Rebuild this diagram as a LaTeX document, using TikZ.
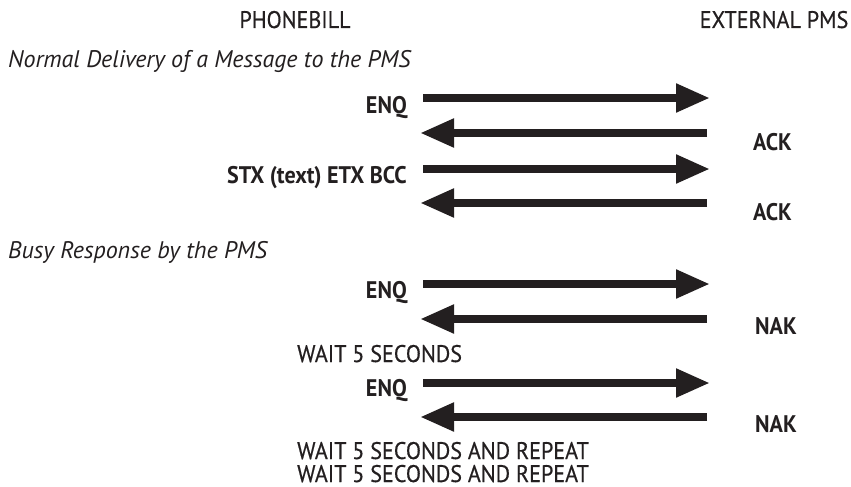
\documentclass[tikz,border=0pt]{standalone}
\usepackage{fontspec}
\setmainfont{PT Sans}[FakeStretch=0.92,UprightFeatures={FakeBold=0.5},ItalicFeatures={FakeStretch=1.0}]
\usetikzlibrary{arrows.meta}
\definecolor{ink}{HTML}{231F20}

\begin{document}
\begin{tikzpicture}
[x=1pt,y=-1pt,
  textdecorate/.style={inner sep=0pt,text=ink,font=\fontsize{24}{28}\selectfont},
  boldecorate/.style={textdecorate,font=\fontsize{24}{28}\selectfont\bfseries},
  headdecorate/.style={textdecorate,font=\fontsize{24}{28}\selectfont\itshape},
  linedecorate/.style={-{Triangle[length=34pt,width=27pt]},line width=8pt,draw=ink}]
\useasboundingbox (0,0) rectangle (851,487);
%%% column titles
\node (pb) at (295,28) [textdecorate,anchor=base] {PHONEBILL};
\node (pms) at (774,28) [textdecorate,anchor=base] {EXTERNAL PMS};
%
%%% normal delivery
% headings and labels
\node (normal) at (8,67) [headdecorate,anchor=base west] {Normal Delivery of a Message to the PMS};
\node (enqa) at (407,113) [boldecorate,anchor=base east] {ENQ};
\node (acka) at (753,150) [boldecorate,anchor=base west] {ACK};
\node (stx) at (407,183) [boldecorate,anchor=base east] {STX (text) ETX BCC};
\node (ackb) at (753,220) [boldecorate,anchor=base west] {ACK};
% ends of the arrows
\coordinate (a1) at (423,98);  \coordinate (b1) at (710,98);
\coordinate (b2) at (707,133); \coordinate (a2) at (420,133);
\coordinate (a3) at (423,169); \coordinate (b3) at (710,169);
\coordinate (b4) at (707,203); \coordinate (a4) at (420,203);
% arrows
\path
(a1) edge[linedecorate] (b1)
(b2) edge[linedecorate] (a2)
(a3) edge[linedecorate] (b3)
(b4) edge[linedecorate] (a4);
%
%%% busy response
% headings and labels
\node (busy) at (8,258) [headdecorate,anchor=base west] {Busy Response by the PMS};
\node (enqb) at (407,298) [boldecorate,anchor=base east] {ENQ};
\node (naka) at (755,334) [boldecorate,anchor=base west] {NAK};
\node (waita) at (297,362) [textdecorate,anchor=base west] {WAIT 5 SECONDS};
\node (enqc) at (407,396) [boldecorate,anchor=base east] {ENQ};
\node (nakb) at (755,432) [boldecorate,anchor=base west] {NAK};
\node (waitb) at (297,459) [textdecorate,anchor=base west] {WAIT 5 SECONDS AND REPEAT};
\node (waitc) at (297,482) [textdecorate,anchor=base west] {WAIT 5 SECONDS AND REPEAT};
% ends of the arrows
\coordinate (a5) at (423,284); \coordinate (b5) at (710,284);
\coordinate (b6) at (707,319); \coordinate (a6) at (420,319);
\coordinate (a7) at (423,383); \coordinate (b7) at (710,383);
\coordinate (b8) at (707,417); \coordinate (a8) at (420,417);
% arrows
\path
(a5) edge[linedecorate] (b5)
(b6) edge[linedecorate] (a6)
(a7) edge[linedecorate] (b7)
(b8) edge[linedecorate] (a8);
\end{tikzpicture}
\end{document}
